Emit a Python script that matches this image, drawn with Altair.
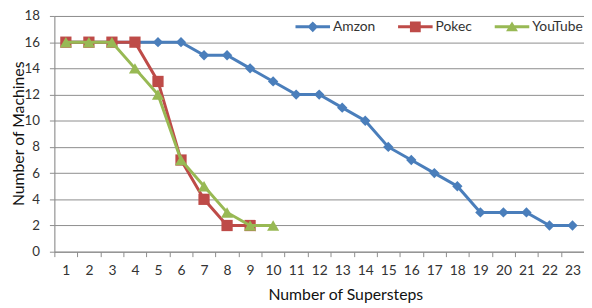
import altair as alt
import pandas as pd

steps = list(range(1, 24))
series_names = ["Amzon", "Pokec", "YouTube"]
series_colors = ["#4A7EBB", "#BE4B48", "#98B954"]
amzon = [16, 16, 16, 16, 16, 16, 15, 15, 14, 13, 12, 12, 11, 10, 8, 7, 6, 5, 3, 3, 3, 2, 2]
pokec = [16, 16, 16, 16, 13, 7, 4, 2, 2]
youtube = [16, 16, 16, 14, 12, 7, 5, 3, 2, 2]
y_ticks = list(range(0, 19, 2))

rows = []
for name, vals in zip(series_names, [amzon, pokec, youtube]):
    for s, v in zip(steps, vals):
        rows.append({"series": name, "step": s, "value": v})
df = pd.DataFrame(rows)

FONT = "Lato"
GRID = "#8c8c8c"

x_enc = alt.X(
    "step:O",
    bandPosition=0.5,
    scale=alt.Scale(type="band", domain=steps, paddingInner=0, paddingOuter=0),
    axis=alt.Axis(
        title="Number of Supersteps", tickBand="extent", labelAngle=0, grid=False,
        domainColor=GRID, tickColor=GRID, tickSize=5, labelPadding=7,
        labelFontSize=14, labelColor="#333333", titleFontSize=16, titleFontWeight="normal",
        titleColor="#111111", titleX=295, titleY=48, titleBaseline="alphabetic",
        titleAlign="center",
    ),
)
y_enc = alt.Y(
    "value:Q",
    scale=alt.Scale(domain=[0, 18]),
    axis=alt.Axis(
        title="Number of Machines", values=y_ticks, grid=True, gridColor=GRID,
        domainColor=GRID, tickColor=GRID, tickSize=5, labelPadding=10,
        labelFontSize=13.5, labelColor="#333333", titleFontSize=16, titleFontWeight="normal",
        titleColor="#111111", titleX=-31, titleY=119, titleBaseline="alphabetic",
        titleAlign="center", titleAngle=270,
    ),
)

base = alt.Chart(df)
shapes = ["diamond", "square", "triangle-up"]
sizes = [110, 130, 150]
layers = []
for name, col, shp, sz in zip(series_names, series_colors, shapes, sizes):
    sub = base.transform_filter(alt.datum.series == name)
    layers.append(sub.mark_line(strokeWidth=3, color=col).encode(x=x_enc, y=y_enc))
    layers.append(sub.mark_point(shape=shp, filled=True, size=sz, opacity=1, color=col).encode(x=x_enc, y=y_enc))

legend_paths = [
    "M-1.6,-0.14H1.6V0.14H-1.6Z M0,-0.5L0.5,0L0,0.5L-0.5,0Z",
    "M-1.6,-0.14H1.6V0.14H-1.6Z M-0.5,-0.5H0.5V0.5H-0.5Z",
    "M-1.6,-0.14H1.6V0.14H-1.6Z M0,-0.5L0.55,0.42H-0.55Z",
]
legend_layer = base.transform_filter("datum.step > 100").mark_point(filled=True, opacity=1).encode(
    color=alt.Color("series:N", scale=alt.Scale(domain=series_names, range=series_colors),
                    legend=alt.Legend(title=None, orient="none", legendX=251, legendY=0,
                                      direction="horizontal", symbolSize=479, symbolStrokeWidth=0,
                                      labelFontSize=14, labelOffset=9.5, columnPadding=22,
                                      labelColor="#333333", symbolOpacity=1)),
    shape=alt.Shape("series:N", scale=alt.Scale(domain=series_names, range=legend_paths)),
)

chart = alt.layer(*layers, legend_layer).properties(
    width=537, height=239,
    autosize=alt.AutoSizeParams(type="none"),
    padding={"left": 47, "top": 6, "right": 0, "bottom": 55},
).configure_view(stroke=None).configure(font=FONT)

chart.save("out.html", embed_options={"renderer": "svg", "actions": False})
